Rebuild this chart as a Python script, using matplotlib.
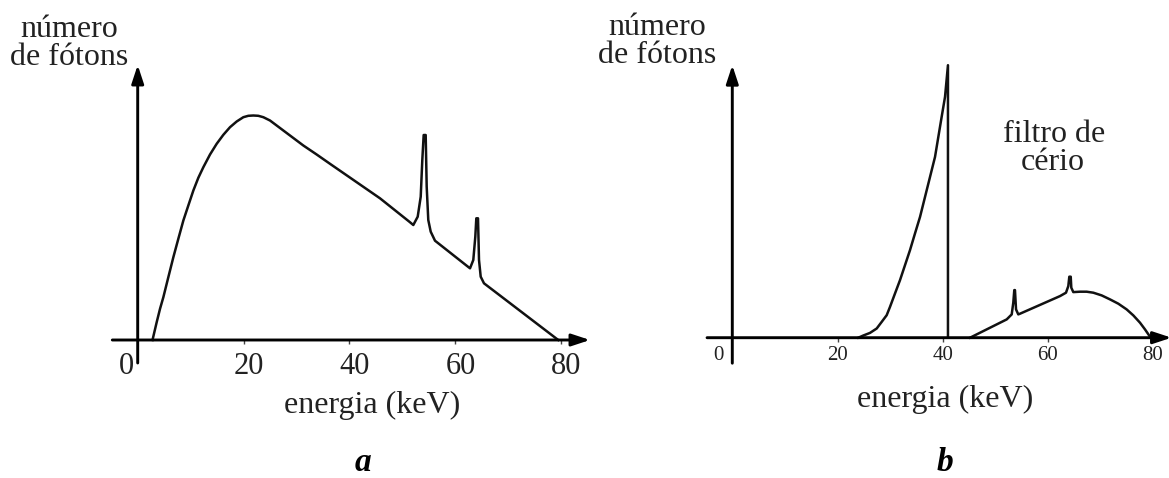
import matplotlib.pyplot as plt

# espectro sem filtro (a) - energia em keV, numero de fotons em unidades arbitrarias
energia_a = [2.8, 3.59, 4.22, 4.85, 5.79, 6.74, 7.68, 8.63, 9.57, 10.52, 11.46, 12.41,
             13.67, 14.93, 16.19, 17.45, 18.71, 19.97, 20.91, 21.86, 22.8, 23.75, 25.01,
             26.27, 27.53, 28.79, 31.31, 33.83, 36.35, 45.8, 51.3, 52.1, 52.93, 53.5,
             53.8, 54.06, 54.44, 54.63, 54.93, 55.39, 56.2, 62.5, 62.82, 63.44, 63.82,
             64.01, 64.33, 64.52, 64.84, 65.46, 79.5]
fotons_a = [0, 17.8, 31.2, 42.8, 62.8, 82.8, 101.2, 119.5, 134.5, 149.5, 162.2, 172.8,
            185.5, 196.2, 205.2, 212.8, 218.5, 222.8, 224.2, 224.5, 224.2, 222.8, 219.5,
            214.5, 209.5, 204.5, 194.5, 185.5, 176.2, 141.7, 118.5, 115, 123.3, 143.3,
            180, 205, 205, 153.3, 120, 108.3, 99.3, 73, 71.7, 80, 103.3, 121.7, 121.7,
            80, 63.3, 56.7, 0]

# espectro com filtro de cerio (b), antes e depois da borda K
energia_b1 = [23.96, 24.91, 26.18, 27.45, 28.4, 29.35, 29.98, 30.93, 31.88, 32.83, 33.78,
              34.73, 35.69, 36.64, 37.59, 38.54, 39.17, 39.8, 40.44, 41.0, 41.0]
fotons_b1 = [0, 2.2, 4.8, 9.2, 15.8, 22.5, 30.8, 44.2, 57.5, 72.5, 87.5, 104.2, 120.8,
             140.8, 160.8, 180.8, 200.8, 220.8, 240.8, 272.5, 0]
energia_b2 = [45.2, 52.17, 53.12, 53.42, 53.61, 53.74, 53.94, 54.37, 54.7, 62.3, 63.44,
              63.88, 64.07, 64.34, 64.45, 64.83, 66.1, 67.37, 68.64, 70.22, 71.81, 73.39,
              74.97, 76.24, 77.51, 78.46, 79.54]
fotons_b2 = [0, 18.3, 23.3, 35, 47.6, 47.6, 28.3, 23.3, 24, 41.6, 45, 51.6, 61, 61, 50,
             45.6, 46, 46, 45, 42.3, 38.3, 34, 28.3, 22.3, 15, 8.3, 0]

ticks = [20, 40, 60, 80]
tick_labels = ['20', '40', '60', '80']

plt.rcParams['font.family'] = ['Liberation Serif', 'DejaVu Serif']

W, H = 1169, 478
PT = 0.72  # pontos por pixel (dpi 100)
fig = plt.figure(figsize=(W / 100, H / 100), dpi=100)


def make_axes(x0_px, y0_px, px_per_kev, xlim, ylim):
    # 1 keV = px_per_kev pixels, 1 unidade de fotons = 1 pixel
    left = (x0_px + xlim[0] * px_per_kev) / W
    width = (xlim[1] - xlim[0]) * px_per_kev / W
    bottom = (H - y0_px + ylim[0]) / H
    height = (ylim[1] - ylim[0]) / H
    ax = fig.add_axes([left, bottom, width, height])
    ax.set_xlim(*xlim)
    ax.set_ylim(*ylim)
    ax.patch.set_visible(False)
    for s in ax.spines.values():
        s.set_visible(False)
    ax.spines['bottom'].set_position(('data', 0))
    ax.set_yticks([])
    return ax


def draw_arrows(ax, x_start, x_end, y_bottom, y_top):
    arrow = dict(arrowstyle='-|>,head_length=0.85,head_width=0.28', lw=2.1,
                 color='black', shrinkA=0, shrinkB=0, mutation_scale=13)
    ax.annotate('', xy=(x_end, 0), xytext=(x_start, 0), arrowprops=arrow,
                annotation_clip=False)
    ax.annotate('', xy=(0, y_top), xytext=(0, y_bottom), arrowprops=arrow,
                annotation_clip=False)


def tick_texts(ax, size, dx_px, pad_px, zero_dx_px):
    ax.set_xticks(ticks, [''] * len(ticks))
    ax.tick_params(axis='x', length=3, width=1, direction='out', color='#444444')
    for t, lab in zip(ticks, tick_labels):
        ax.annotate(lab, xy=(t, 0), xytext=(dx_px * PT, -pad_px * PT),
                    textcoords='offset points', ha='center', va='top', fontsize=size,
                    color='#222222')
    ax.annotate('0', xy=(0, 0), xytext=(zero_dx_px * PT, -pad_px * PT),
                textcoords='offset points', ha='center', va='top', fontsize=size,
                color='#222222')


def ylabel(ax, x):
    ax.text(x, 303, 'número', ha='center', va='baseline', fontsize=23, color='#222222')
    ax.text(x, 275, 'de fótons', ha='center', va='baseline', fontsize=23, color='#222222')


# Painel a
ax_a = make_axes(137.7, 340, 5.29, (-8, 90), (-40, 300))
ax_a.plot(energia_a, fotons_a, color='#111111', lw=1.8, solid_joinstyle='round')
draw_arrows(ax_a, -4.8, 85.5, -23, 275)
tick_texts(ax_a, 22, 5.5, 12, -11.5)
ylabel(ax_a, -12.9)
ax_a.text(44.3, -73, 'energia (keV)', ha='center', va='baseline', fontsize=23,
          color='#222222')
ax_a.text(42.6, -131, 'a', ha='center', va='baseline', fontsize=24,
          fontweight='bold', fontstyle='italic')

# Painel b
ax_b = make_axes(732.3, 337.7, 5.26, (-8, 83), (-40, 300))
ax_b.plot(energia_b1, fotons_b1, color='#111111', lw=1.8, solid_joinstyle='round')
ax_b.plot(energia_b2, fotons_b2, color='#111111', lw=1.8, solid_joinstyle='round')
draw_arrows(ax_b, -4.8, 83.5, -25.5, 272.5)
tick_texts(ax_b, 15, 0, 8, -14)
ylabel(ax_b, -14.3)
ax_b.text(61.1, 195.7, 'filtro de', ha='center', va='baseline', fontsize=23,
          color='#222222')
ax_b.text(61.0, 167.7, 'cério', ha='center', va='baseline', fontsize=23,
          color='#222222')
ax_b.text(40.4, -69.3, 'energia (keV)', ha='center', va='baseline', fontsize=23,
          color='#222222')
ax_b.text(40.4, -133, 'b', ha='center', va='baseline', fontsize=24,
          fontweight='bold', fontstyle='italic')

fig.savefig('out.png', dpi=100, facecolor='white')
